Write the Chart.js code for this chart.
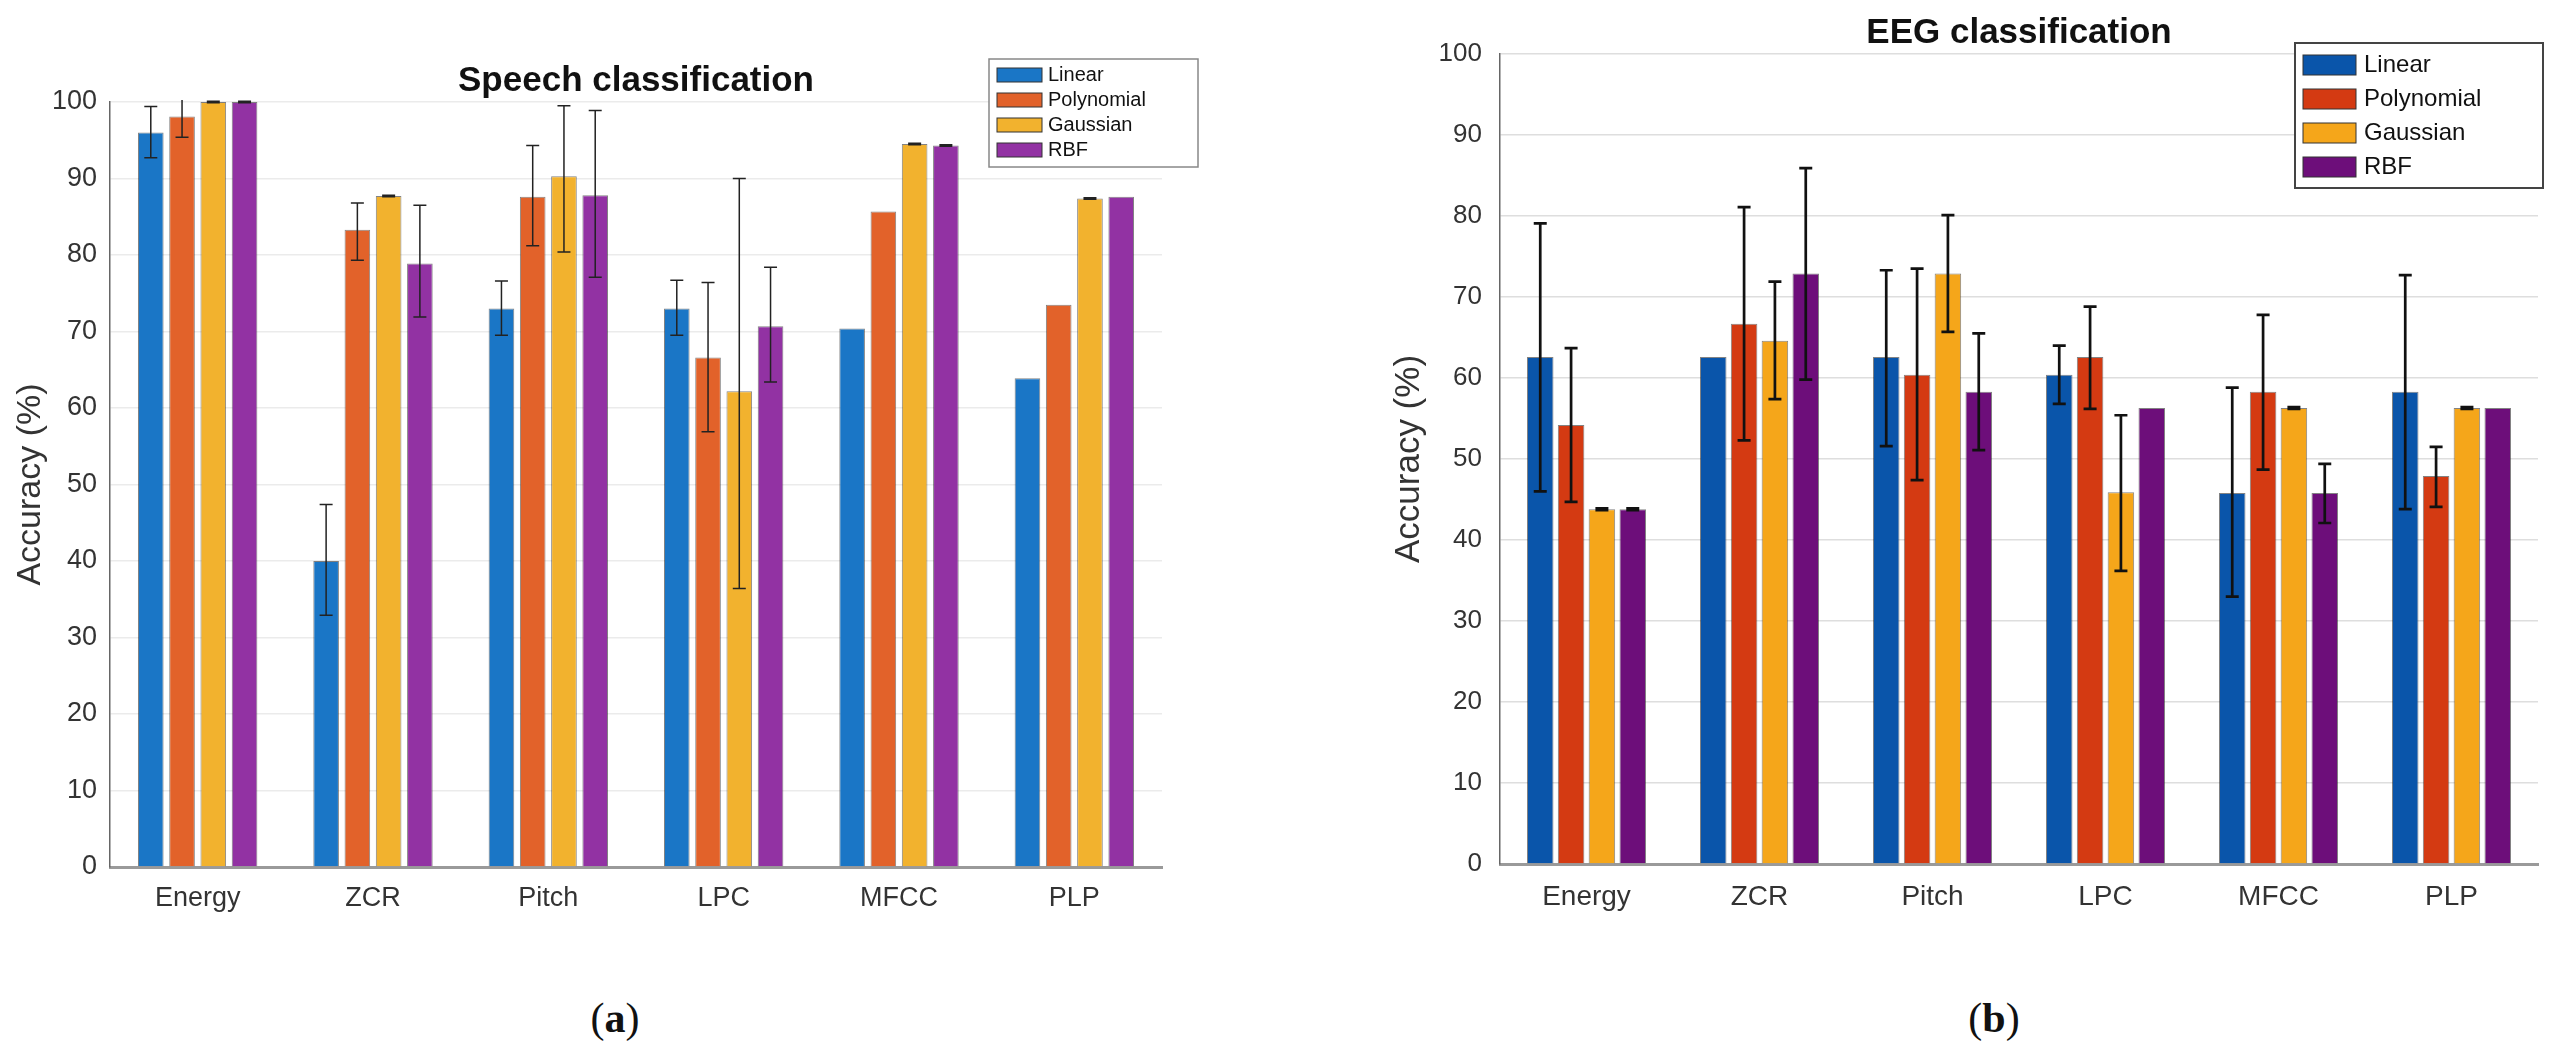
<!DOCTYPE html>
<html>
<head>
<meta charset="utf-8">
<script src="https://cdn.jsdelivr.net/npm/chart.js@4.4.1/dist/chart.umd.min.js"></script>
<style>
  html, body { margin: 0; padding: 0; background: #fff; }
  body { width: 2560px; height: 1054px; position: relative; overflow: hidden; }
  .panel { position: absolute; top: 0; width: 1280px; height: 960px; }
  .caption { position: absolute; top: 994px; line-height: 48px; font-family: 'Liberation Serif', 'Times New Roman', serif; font-size: 42px; color: #111; transform: translateX(-50%); }
</style>
</head>
<body>
<div class="panel" style="left:0"><canvas id="speechChart"></canvas></div>
<div class="panel" style="left:1280px"><canvas id="eegChart"></canvas></div>
<div class="caption" style="left:615px">(<b>a</b>)</div>
<div class="caption" style="left:1994px">(<b>b</b>)</div>
<script>
const categories = ['Energy', 'ZCR', 'Pitch', 'LPC', 'MFCC', 'PLP'];
const seriesNames = ['Linear', 'Polynomial', 'Gaussian', 'RBF'];

// Speech classification accuracy (%)
const speechLinear     = [96.0, 40.0, 73.0, 73.0, 70.4, 63.9];
const speechPolynomial = [98.1, 83.3, 87.6, 66.6, 85.7, 73.5];
const speechGaussian   = [100.0, 87.7, 90.3, 62.2, 94.5, 87.4];
const speechRbf        = [100.0, 78.9, 87.8, 70.7, 94.3, 87.6];

// error bars as [low, high]
const speechLinearErr     = [[92.7, 99.4], [32.9, 47.4], [69.5, 76.6], [69.5, 76.7], null, null];
const speechPolynomialErr = [[95.4, 100.7], [79.3, 86.8], [81.2, 94.3], [56.9, 76.4], null, null];
const speechGaussianErr   = [[99.9, 100.1], [87.6, 87.8], [80.4, 99.5], [36.4, 90.0], [94.4, 94.6], [87.3, 87.5]];
const speechRbfErr        = [[99.9, 100.1], [71.9, 86.5], [77.1, 98.9], [63.4, 78.4], [94.2, 94.4], null];

// EEG classification accuracy (%)
const eegLinear     = [62.6, 62.6, 62.6, 60.4, 45.8, 58.3];
const eegPolynomial = [54.2, 66.7, 60.4, 62.6, 58.3, 47.9];
const eegGaussian   = [43.8, 64.6, 72.9, 45.9, 56.3, 56.3];
const eegRbf        = [43.8, 72.9, 58.3, 56.3, 45.8, 56.3];

const eegLinearErr     = [[46.0, 79.1], null, [51.6, 73.3], [56.8, 64.0], [33.0, 58.8], [43.8, 72.7]];
const eegPolynomialErr = [[44.7, 63.7], [52.3, 81.1], [47.4, 73.5], [56.2, 68.8], [48.7, 67.8], [44.1, 51.5]];
const eegGaussianErr   = [[43.7, 43.9], [57.4, 71.9], [65.7, 80.1], [36.2, 55.4], [56.2, 56.4], [56.2, 56.4]];
const eegRbfErr        = [[43.7, 43.9], [59.8, 85.9], [51.1, 65.5], null, [42.1, 49.4], null];

const speechColors = ['#1a76c6', '#e2622a', '#f2b22e', '#9232a3'];
const eegColors    = ['#0a55aa', '#d43a12', '#f5a61a', '#6d0e7a'];

const FONT = "'Liberation Sans', Arial, Helvetica, sans-serif";

// draws the error bars on top of each bar
const errorBarPlugin = {
  id: 'errorBars',
  afterDatasetsDraw(chart, args, opts) {
    const ctx = chart.ctx;
    const yScale = chart.scales.y;
    const area = chart.chartArea;
    ctx.save();
    ctx.beginPath();
    ctx.rect(area.left, area.top - 2, area.right - area.left, area.bottom - area.top + 2);
    ctx.clip();
    ctx.strokeStyle = opts.color;
    ctx.lineWidth = opts.lineWidth;
    const half = opts.capWidth / 2;
    chart.data.datasets.forEach((ds, i) => {
      const meta = chart.getDatasetMeta(i);
      if (!ds.errorBars || meta.hidden) return;
      meta.data.forEach((bar, j) => {
        const e = ds.errorBars[j];
        if (!e) return;
        const lo = yScale.getPixelForValue(e[0]);
        const hi = yScale.getPixelForValue(e[1]);
        ctx.beginPath();
        ctx.moveTo(bar.x, lo); ctx.lineTo(bar.x, hi);
        ctx.moveTo(bar.x - half, lo); ctx.lineTo(bar.x + half, lo);
        ctx.moveTo(bar.x - half, hi); ctx.lineTo(bar.x + half, hi);
        ctx.stroke();
      });
    });
    ctx.restore();
  }
};

// boxed legend like the matlab one
const boxLegendPlugin = {
  id: 'boxLegend',
  afterDraw(chart, args, o) {
    const ctx = chart.ctx;
    ctx.save();
    ctx.fillStyle = '#fff';
    ctx.fillRect(o.x, o.y, o.w, o.h);
    ctx.strokeStyle = o.borderColor;
    ctx.lineWidth = o.borderWidth;
    ctx.strokeRect(o.x, o.y, o.w, o.h);
    ctx.font = o.fontSize + 'px ' + FONT;
    ctx.textBaseline = 'middle';
    chart.data.datasets.forEach((ds, i) => {
      const cy = o.firstRow + i * o.rowGap;
      ctx.fillStyle = ds.backgroundColor;
      ctx.fillRect(o.swatchX, cy - o.swatchH / 2, o.swatchW, o.swatchH);
      ctx.strokeStyle = '#333';
      ctx.lineWidth = 1;
      ctx.strokeRect(o.swatchX, cy - o.swatchH / 2, o.swatchW, o.swatchH);
      ctx.fillStyle = '#111';
      ctx.fillText(ds.label, o.textX, cy);
    });
    ctx.restore();
  }
};

function buildDatasets(seriesList, errList, colors, barPct) {
  return seriesList.map((vals, i) => ({
    label: seriesNames[i],
    data: vals,
    errorBars: errList[i],
    backgroundColor: colors[i],
    borderColor: 'rgba(30,30,30,0.55)',
    borderWidth: 1,
    categoryPercentage: 0.713,
    barPercentage: barPct
  }));
}

function renderChart(id, s) {
  const ctx = document.getElementById(id).getContext('2d');
  return new Chart(ctx, {
    type: 'bar',
    data: {
      labels: categories,
      datasets: buildDatasets(s.series, s.errors, s.colors, s.barPct)
    },
    plugins: [errorBarPlugin, boxLegendPlugin],
    options: {
      responsive: true,
      maintainAspectRatio: false,
      animation: false,
      layout: { padding: { left: s.padLeft, right: s.padRight, top: 0, bottom: 0 } },
      plugins: {
        legend: { display: false },
        tooltip: { enabled: false },
        title: {
          display: true,
          text: s.title,
          fullSize: false,
          color: '#111',
          font: { family: FONT, size: 35, weight: 'bold' },
          padding: { top: s.titleTop, bottom: 0 }
        },
        errorBars: s.errStyle,
        boxLegend: s.legend
      },
      scales: {
        x: {
          offset: true,
          grid: { display: false },
          border: { display: true, color: '#9a9a9a', width: 3 },
          ticks: { color: '#333', font: { family: FONT, size: s.xFont }, padding: s.xTickPad },
          afterFit(scale) { scale.height = s.xHeight; }
        },
        y: {
          min: 0,
          max: 100,
          ticks: { stepSize: 10, color: '#333', font: { family: FONT, size: s.yFont }, padding: s.yTickPad },
          grid: { color: s.gridColor, lineWidth: 1.5, drawTicks: false },
          border: { display: true, color: '#666', width: 1.5 },
          title: {
            display: true,
            text: 'Accuracy (%)',
            color: '#333',
            font: { family: FONT, size: s.yTitleFont },
            padding: { top: s.yTitlePad, bottom: 0 }
          },
          afterFit(scale) { scale.width = s.yWidth; }
        }
      }
    }
  });
}

renderChart('speechChart', {
  title: 'Speech classification',
  series: [speechLinear, speechPolynomial, speechGaussian, speechRbf],
  errors: [speechLinearErr, speechPolynomialErr, speechGaussianErr, speechRbfErr],
  colors: speechColors,
  barPct: 0.82,
  padLeft: 0, padRight: 118,
  titleTop: 60,
  xFont: 27, xHeight: 93, xTickPad: 7,
  yFont: 27, yTickPad: 13, yWidth: 110,
  yTitleFont: 34, yTitlePad: 10,
  gridColor: '#ebebeb',
  errStyle: { color: '#222', lineWidth: 1.5, capWidth: 13 },
  legend: { x: 989, y: 59, w: 209, h: 108, swatchX: 997, swatchW: 45, swatchH: 14,
            firstRow: 75, rowGap: 25, textX: 1048, fontSize: 20, borderColor: '#888', borderWidth: 1.5 }
});

renderChart('eegChart', {
  title: 'EEG classification',
  series: [eegLinear, eegPolynomial, eegGaussian, eegRbf],
  errors: [eegLinearErr, eegPolynomialErr, eegGaussianErr, eegRbfErr],
  colors: eegColors,
  barPct: 0.86,
  padLeft: 88, padRight: 22,
  titleTop: 12,
  xFont: 28, xHeight: 96, xTickPad: 8,
  yFont: 26, yTickPad: 18, yWidth: 132,
  yTitleFont: 35, yTitlePad: 20,
  gridColor: '#dedede',
  errStyle: { color: '#111', lineWidth: 2.7, capWidth: 13 },
  legend: { x: 1015, y: 43, w: 248, h: 145, swatchX: 1023, swatchW: 53, swatchH: 20,
            firstRow: 65, rowGap: 34, textX: 1084, fontSize: 24, borderColor: '#444', borderWidth: 2 }
});
</script>
</body>
</html>
